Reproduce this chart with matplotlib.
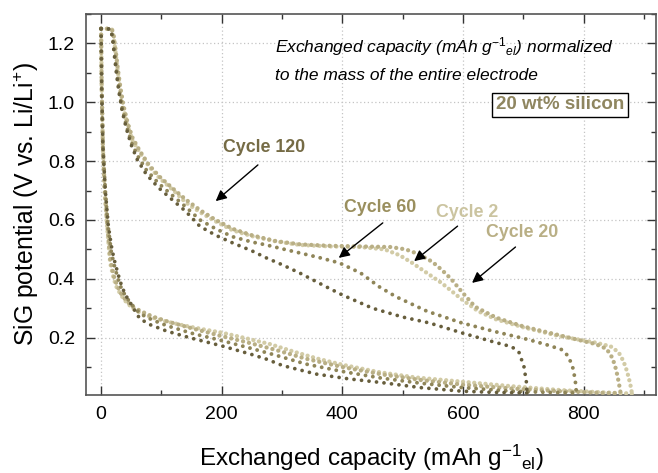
import matplotlib
matplotlib.use("Agg")
import matplotlib.pyplot as plt
from matplotlib.ticker import MultipleLocator

plt.rcParams['font.family'] = ['Liberation Sans', 'DejaVu Sans']
plt.rcParams['mathtext.fontset'] = 'custom'
plt.rcParams['mathtext.rm'] = 'Liberation Sans'
plt.rcParams['mathtext.it'] = 'Liberation Sans:italic'
plt.rcParams['mathtext.bf'] = 'Liberation Sans:bold'

# galvanostatic curves, capacity in mAh/g of electrode, potential in V vs Li/Li+
# discharge (lithiation) branches
dis2_x = [0, 1, 3, 6, 9, 15, 21, 26, 33, 40, 52, 64, 85, 110, 140, 170, 200, 240, 280, 320,
          360, 400, 460, 520, 600, 680, 760, 830, 880]
dis2_y = [1.25, 1.05, 0.85, 0.70, 0.60, 0.455, 0.40, 0.37, 0.345, 0.325, 0.30, 0.285, 0.268,
          0.254, 0.24, 0.228, 0.217, 0.198, 0.178, 0.152, 0.128, 0.108, 0.083, 0.065, 0.05,
          0.035, 0.022, 0.014, 0.01]
dis20_x = [0, 1, 3, 6, 10, 15, 21, 27, 33, 40, 52, 66, 85, 110, 150, 200, 246, 290, 340, 400,
           466, 530, 600, 680, 760, 820, 861]
dis20_y = [1.25, 1.05, 0.85, 0.70, 0.59, 0.47, 0.41, 0.375, 0.35, 0.33, 0.305, 0.29, 0.272,
           0.255, 0.232, 0.205, 0.182, 0.158, 0.128, 0.10, 0.075, 0.056, 0.04, 0.027, 0.018,
           0.013, 0.011]
dis60_x = [0, 1, 3, 7, 11, 17, 22, 28, 34, 41, 48, 56, 66, 85, 110, 150, 200, 246, 290, 340,
           400, 466, 530, 600, 680, 740, 788]
dis60_y = [1.25, 1.05, 0.85, 0.70, 0.59, 0.49, 0.445, 0.40, 0.365, 0.34, 0.32, 0.30, 0.28,
           0.26, 0.24, 0.215, 0.19, 0.165, 0.14, 0.11, 0.085, 0.062, 0.045, 0.03, 0.018,
           0.014, 0.012]
dis120_x = [0, 1, 3, 7, 12, 18, 23, 29, 35, 42, 48, 55, 64, 80, 109, 150, 200, 246, 274, 301,
            357, 410, 466, 530, 598, 650, 706]
dis120_y = [1.25, 1.05, 0.85, 0.70, 0.58, 0.50, 0.455, 0.41, 0.37, 0.34, 0.32, 0.295, 0.265,
            0.245, 0.222, 0.198, 0.172, 0.145, 0.127, 0.105, 0.076, 0.06, 0.047, 0.03, 0.018,
            0.014, 0.012]

# charge (delithiation) branches
chg2_x = [0, 10, 18, 21, 24, 28, 32, 37, 44, 52, 64, 80, 98, 120, 140, 165, 190, 218, 250,
          290, 330, 380, 430, 470, 495, 515, 540, 565, 598, 625, 655, 700, 760, 820, 845,
          858, 866, 872, 877, 880]
chg2_y = [1.25, 1.25, 1.248, 1.22, 1.17, 1.10, 1.04, 0.98, 0.92, 0.87, 0.83, 0.78, 0.74,
          0.70, 0.66, 0.625, 0.595, 0.565, 0.545, 0.527, 0.515, 0.51, 0.508, 0.50, 0.48,
          0.455, 0.42, 0.385, 0.33, 0.29, 0.262, 0.235, 0.205, 0.183, 0.17, 0.15, 0.12,
          0.085, 0.045, 0.012]
chg20_x = [0, 10, 18, 21, 24, 28, 32, 37, 44, 52, 64, 80, 98, 120, 140, 165, 190, 218, 250,
           290, 330, 380, 430, 480, 505, 525, 549, 565, 580, 598, 620, 655, 700, 760, 820,
           838, 848, 854, 858, 861]
chg20_y = [1.25, 1.25, 1.248, 1.225, 1.18, 1.11, 1.05, 0.99, 0.93, 0.88, 0.835, 0.785, 0.745,
           0.705, 0.67, 0.632, 0.60, 0.57, 0.548, 0.528, 0.517, 0.512, 0.51, 0.508, 0.50,
           0.485, 0.458, 0.43, 0.40, 0.356, 0.305, 0.268, 0.238, 0.208, 0.178, 0.162, 0.13,
           0.09, 0.05, 0.015]
chg60_x = [0, 10, 16, 19, 22, 26, 30, 35, 42, 50, 60, 75, 95, 120, 140, 164, 190, 218, 250,
           274, 300, 329, 360, 395, 430, 461, 489, 540, 598, 650, 709, 740, 764, 775, 783,
           787, 788]
chg60_y = [1.25, 1.25, 1.248, 1.22, 1.17, 1.10, 1.04, 0.98, 0.92, 0.865, 0.82, 0.77, 0.725,
           0.68, 0.645, 0.60, 0.57, 0.543, 0.525, 0.515, 0.502, 0.488, 0.473, 0.454, 0.42,
           0.373, 0.339, 0.29, 0.25, 0.222, 0.193, 0.175, 0.159, 0.136, 0.092, 0.04, 0.012]
chg120_x = [0, 10, 16, 19, 22, 26, 30, 35, 42, 50, 60, 75, 95, 120, 140, 164, 190, 218, 250,
            274, 300, 329, 373, 400, 450, 500, 544, 600, 655, 681, 693, 701, 705, 706]
chg120_y = [1.25, 1.25, 1.248, 1.22, 1.16, 1.09, 1.03, 0.97, 0.91, 0.855, 0.805, 0.755, 0.71,
            0.665, 0.63, 0.578, 0.548, 0.522, 0.495, 0.471, 0.448, 0.42, 0.373, 0.345, 0.30,
            0.27, 0.25, 0.215, 0.183, 0.169, 0.149, 0.102, 0.05, 0.012]

cycles = ['Cycle 2', 'Cycle 20', 'Cycle 60', 'Cycle 120']
colors = ['#d2cba6', '#b9af85', '#8f8558', '#675e3c']
widths = [3.1, 3.1, 2.8, 2.7]
gaps = [1.3, 1.4, 1.9, 2.0]
discharge = [(dis2_x, dis2_y), (dis20_x, dis20_y), (dis60_x, dis60_y), (dis120_x, dis120_y)]
charge = [(chg2_x, chg2_y), (chg20_x, chg20_y), (chg60_x, chg60_y), (chg120_x, chg120_y)]

fig = plt.figure(figsize=(6.58, 4.73), dpi=100)
ax = fig.add_axes([0.1307, 0.1649, 0.8663, 0.8055])

for i in range(len(cycles)):
    for xs, ys in (discharge[i], charge[i]):
        ax.plot(xs, ys, color=colors[i], lw=widths[i], linestyle=(0, (0.01, gaps[i])),
                dash_capstyle='round', zorder=3 + i)

ax.set_xlim(-25, 920)
ax.set_ylim(0.005, 1.3)
ax.xaxis.set_major_locator(MultipleLocator(200))
ax.xaxis.set_minor_locator(MultipleLocator(100))
ax.yaxis.set_major_locator(MultipleLocator(0.2))
ax.yaxis.set_minor_locator(MultipleLocator(0.1))
ax.set_yticks([0.2, 0.4, 0.6, 0.8, 1.0, 1.2])
ax.set_yticklabels(['0.2', '0.4', '0.6', '0.8', '1.0', '1.2'])
ax.tick_params(which='both', direction='in', top=True, right=True, width=1.0,
               color='#333333', labelsize=14)
ax.tick_params(which='major', length=6.5)
ax.tick_params(which='minor', length=3.5)
ax.tick_params(axis='x', pad=8)
ax.tick_params(axis='y', pad=8)
for sp in ax.spines.values():
    sp.set_color('#555555')
    sp.set_linewidth(1.2)
ax.grid(True, which='major', color='#c4c4c4', linestyle=(0, (1, 2)), lw=0.9, zorder=0)

ax.set_xlabel(r'Exchanged capacity (mAh g$^{\mathregular{-1}}$$_{\mathregular{el}}$)',
              fontsize=17.5, labelpad=14)
ax.set_ylabel(r'SiG potential (V vs. Li/Li$^{\mathregular{+}}$)', fontsize=17.8, labelpad=5)

ax.text(288, 1.171, r'Exchanged capacity (mAh g$^{-1}$$_{el}$) normalized',
        style='italic', fontsize=12.5, va='baseline', ha='left')
ax.text(288, 1.076, 'to the mass of the entire electrode',
        style='italic', fontsize=12.5, va='baseline', ha='left')
ax.text(761, 0.991, '20 wt% silicon', fontsize=13.5, fontweight='bold', color='#8f8660',
        ha='center', va='center',
        bbox=dict(boxstyle='square,pad=0.2', fc='white', ec='black', lw=1.0))

label_pos = [(607, 0.624), (698, 0.556), (462, 0.644), (270, 0.845)]
arrow_tail = [(591, 0.579), (687, 0.508), (467, 0.590), (260, 0.787)]
arrow_head = [(519, 0.460), (615, 0.386), (394, 0.471), (190, 0.664)]
label_colors = ['#cbc4a0', '#b9af85', '#9a8f5e', '#756b45']
for i in range(len(cycles)):
    ax.text(label_pos[i][0], label_pos[i][1], cycles[i], fontsize=12.8, fontweight='bold',
            color=label_colors[i], ha='center', va='center', zorder=10)
    ax.annotate('', xy=arrow_head[i], xytext=arrow_tail[i],
                arrowprops=dict(arrowstyle='-|>', color='black', lw=1.0,
                                mutation_scale=16, shrinkA=0, shrinkB=0), zorder=10)

plt.savefig('out.png', dpi=100)
